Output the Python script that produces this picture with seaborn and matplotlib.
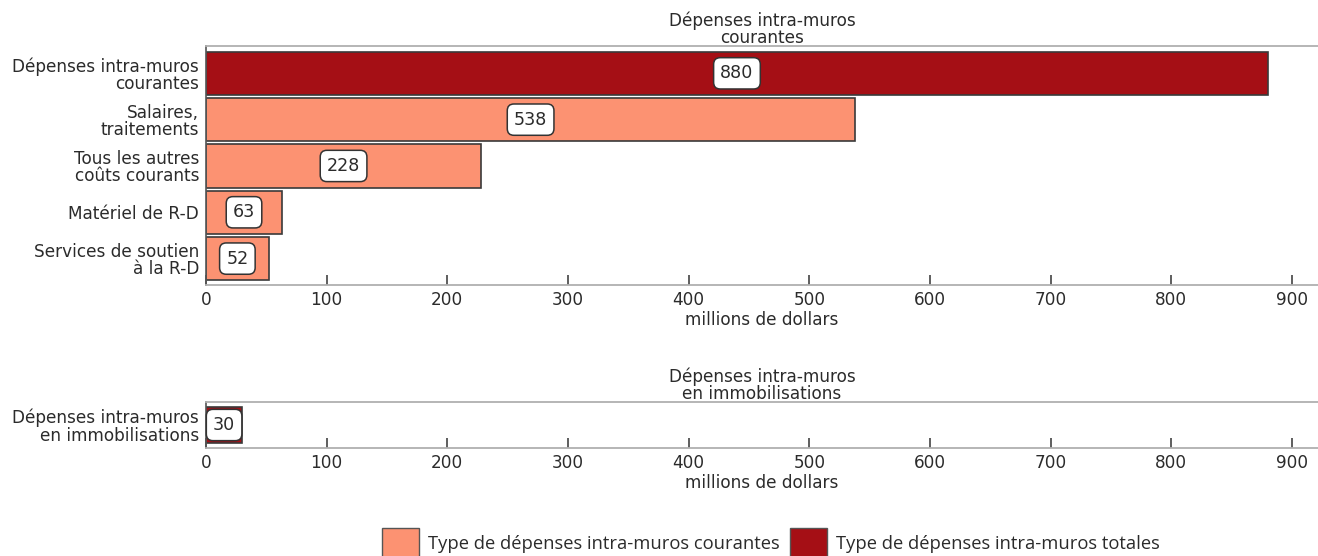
import matplotlib
matplotlib.use("Agg")
import matplotlib.pyplot as plt
from matplotlib.patches import Patch
import seaborn as sns
import pandas as pd

# Current intramural expenditures (millions of dollars)
cur_labels = [
    "Dépenses intra-muros\ncourantes",
    "Salaires,\ntraitements",
    "Tous les autres\ncoûts courants",
    "Matériel de R-D",
    "Services de soutien\nà la R-D",
]
cur_values = [880, 538, 228, 63, 52]
cur_types = ["totale", "courante", "courante", "courante", "courante"]

# Capital intramural expenditures
cap_labels = ["Dépenses intra-muros\nen immobilisations"]
cap_values = [30]
cap_types = ["totale"]

titles = ["Dépenses intra-muros\ncourantes", "Dépenses intra-muros\nen immobilisations"]
xlabel = "millions de dollars"
xticks = [0, 100, 200, 300, 400, 500, 600, 700, 800, 900]
legend_labels = ["Type de dépenses intra-muros courantes",
                 "Type de dépenses intra-muros totales"]

palette = {"courante": "#FC9272", "totale": "#A50F15"}
text_color = "#2b2b2b"
fs = 12.2

sns.set_theme(style="white")
plt.rcParams["font.family"] = ["DejaVu Sans"]

fig = plt.figure(figsize=(13.18, 5.56), dpi=100)
ax1 = fig.add_axes([206 / 1318, 1 - 285 / 556, 1112 / 1318, 239 / 556])
ax2 = fig.add_axes([206 / 1318, 1 - 448 / 556, 1112 / 1318, 46 / 556])


def draw(ax, labels, values, types, title, width, ylim):
    df = pd.DataFrame({"cat": labels, "val": values, "type": types})
    sns.barplot(data=df, y="cat", x="val", hue="type", palette=palette,
                orient="h", dodge=False, width=width, ax=ax, legend=False,
                edgecolor="#3a3a3a", linewidth=1.2, saturation=1)
    for i, v in enumerate(values):
        ax.text(v / 2, i, f"{v}", ha="center", va="center", fontsize=12.6,
                color=text_color,
                bbox=dict(boxstyle="round,pad=0.38", fc="white", ec="#333333", lw=1.1))
    ax.set_xlim(0, 921.5)
    ax.set_ylim(*ylim)
    ax.set_xticks(xticks)
    ax.set_xticklabels([str(t) for t in xticks], fontsize=fs, color=text_color)
    ax.tick_params(axis="x", direction="in", length=7, width=1.1,
                   color="#333333", pad=4, bottom=True)
    ax.tick_params(axis="y", length=0, pad=5, labelsize=fs, labelcolor=text_color)
    ax.set_ylabel("")
    ax.set_xlabel(xlabel, fontsize=fs, color=text_color, labelpad=1.5)
    ax.set_title(title, fontsize=fs, color=text_color, linespacing=0.95, pad=2)
    for side in ("top", "bottom"):
        ax.spines[side].set_color("#b0b0b0")
        ax.spines[side].set_linewidth(1.3)
    ax.spines["left"].set_color("#555555")
    ax.spines["left"].set_linewidth(1.2)
    ax.spines["right"].set_visible(False)
    for lab in ax.get_yticklabels():
        lab.set_linespacing(0.95)
        lab.set_horizontalalignment("right")


draw(ax1, cur_labels, cur_values, cur_types, titles[0], 0.93, (4.57, -0.59))
draw(ax2, cap_labels, cap_values, cap_types, titles[1], 0.9, (0.575, -0.575))

handles = [Patch(facecolor=palette["courante"], edgecolor="#555555"),
           Patch(facecolor=palette["totale"], edgecolor="#555555")]
fig.legend(handles, legend_labels, loc="center", bbox_to_anchor=(771 / 1318, 1 - 543 / 556),
           ncol=2, frameon=False, handlelength=2.0, handleheight=2.2,
           handletextpad=0.5, columnspacing=0.55,
           prop={"family": ["Open Sans", "DejaVu Sans"], "size": 13.2},
           labelcolor=text_color)

fig.savefig("out.png", dpi=100)
